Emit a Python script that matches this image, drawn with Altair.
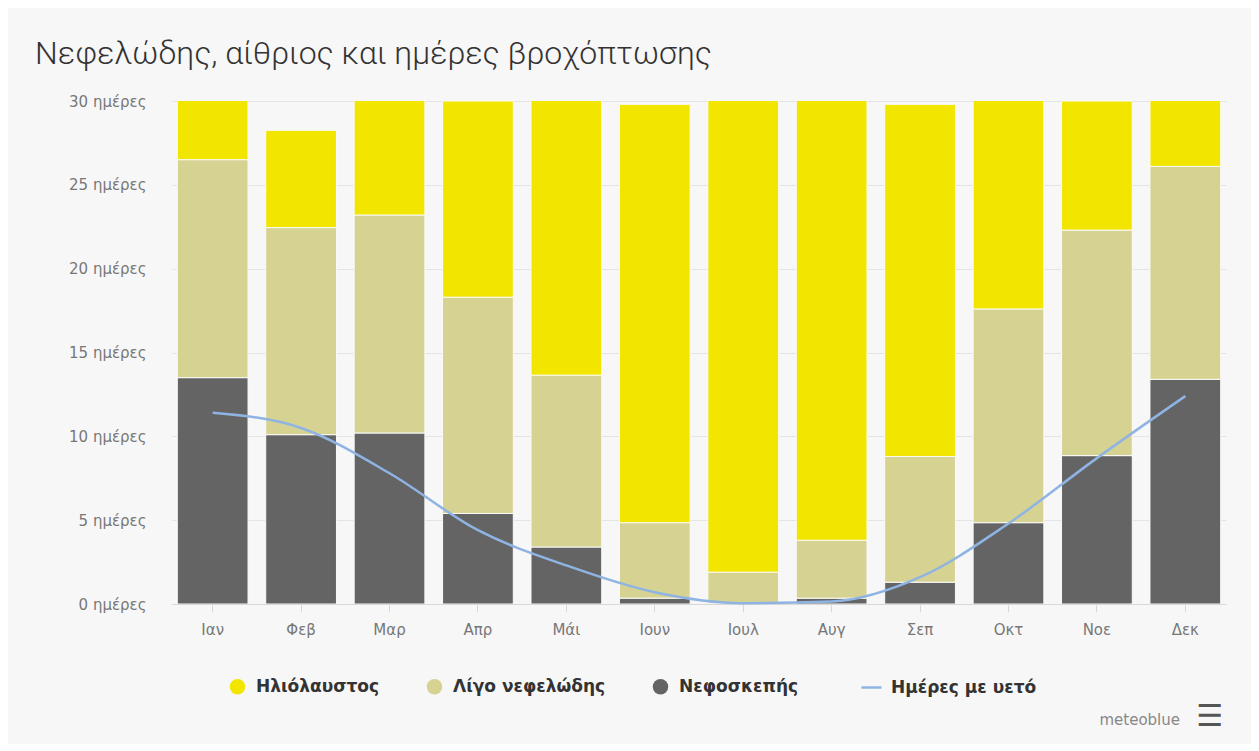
import altair as alt
import pandas as pd

months = ["Ιαν", "Φεβ", "Μαρ", "Απρ", "Μάι", "Ιουν", "Ιουλ", "Αυγ", "Σεπ", "Οκτ", "Νοε", "Δεκ"]
series_names = ["Ηλιόλαυστος", "Λίγο νεφελώδης", "Νεφοσκεπής"]
sunny = [4.5, 5.8, 7.8, 11.7, 17.35, 24.95, 29.1, 27.2, 21.0, 13.4, 7.7, 4.9]
partly = [13.0, 12.35, 13.0, 12.9, 10.25, 4.5, 1.85, 3.45, 7.5, 12.75, 13.45, 12.7]
overcast = [13.5, 10.1, 10.2, 5.4, 3.4, 0.35, 0.05, 0.35, 1.3, 4.85, 8.85, 13.4]
precip_name = "Ημέρες με υετό"
precip = [11.4, 10.5, 7.8, 4.4, 2.3, 0.7, 0.05, 0.15, 1.6, 4.8, 8.7, 12.4]
y_ticks = [0, 5, 10, 15, 20, 25, 30]

colors = ["#f2e600", "#d6d292", "#646464"]
line_color = "#8fb4e3"

rows = []
for i, m in enumerate(months):
    for rank, (name, vals) in enumerate(zip(series_names[::-1], [overcast, partly, sunny])):
        rows.append({"month": m, "type": name, "days": vals[i], "rank": rank})
bars_df = pd.DataFrame(rows)
line_df = pd.DataFrame({"month": months, "days": precip, "name": precip_name})
brand_df = pd.DataFrame({"t": ["meteoblue"]})
menu_df = pd.DataFrame({"t": ["☰"]})

x_enc = alt.X(
    "month:N", sort=months, title=None,
    scale=alt.Scale(paddingInner=0.2, paddingOuter=0.06),
    axis=alt.Axis(labelAngle=0, labelFont="DejaVu Sans", labelFontSize=15,
                  labelColor="#777", domainColor="#d8d8d8", tickColor="#d8d8d8",
                  tickSize=8, labelPadding=10, grid=False),
)
y_scale = alt.Scale(domain=[0, 30], nice=False)

bars = alt.Chart(bars_df).mark_bar(clip=True, stroke="#fafafa", strokeWidth=1).encode(
    x=x_enc,
    y=alt.Y("days:Q", stack="zero", scale=y_scale, title=None,
            axis=alt.Axis(values=y_ticks, labelExpr="datum.value + ' ημέρες'",
                          labelFont="DejaVu Sans", labelFontSize=15, labelColor="#777",
                          domain=False, ticks=False, labelPadding=26,
                          gridColor="#e4e4e4", gridWidth=1)),
    color=alt.Color("type:N", scale=alt.Scale(domain=series_names, range=colors),
                    legend=alt.Legend(title=None, orient="none", direction="horizontal",
                                      legendX=57, legendY=577, symbolType="circle",
                                      symbolSize=240, symbolStrokeWidth=0,
                                      labelFont="DejaVu Sans", labelFontSize=17,
                                      labelFontWeight="bold", labelColor="#333",
                                      columnPadding=46, labelOffset=10)),
    order=alt.Order("rank:Q"),
)

line = alt.Chart(line_df).mark_line(interpolate="monotone", strokeWidth=2.5).encode(
    x=alt.X("month:N", sort=months),
    y=alt.Y("days:Q", scale=y_scale),
    stroke=alt.Stroke("name:N", scale=alt.Scale(domain=[precip_name], range=[line_color]),
                      legend=alt.Legend(title=None, orient="none", direction="horizontal",
                                        legendX=688, legendY=575, symbolType="stroke",
                                        symbolSize=400, symbolStrokeWidth=2.5,
                                        labelFont="DejaVu Sans", labelFontSize=17,
                                        labelFontWeight="bold", labelColor="#333",
                                        labelOffset=8)),
)

brand = alt.Chart(brand_df).mark_text(font="DejaVu Sans", fontSize=15, color="#888",
                                      align="right", baseline="middle").encode(
    text="t:N", x=alt.value(1008), y=alt.value(619))
menu = alt.Chart(menu_df).mark_text(font="DejaVu Sans", fontSize=30, fontWeight="bold",
                                    color="#555", align="center", baseline="middle").encode(
    text="t:N", x=alt.value(1038), y=alt.value(616))

chart = alt.layer(bars, line, brand, menu).resolve_scale(color="independent").properties(
    width=1054, height=503,
    autosize=alt.AutoSizeParams(type="none"),
    padding={"left": 164, "top": 93, "right": 25, "bottom": 140},
    background="#f7f7f7",
    title=alt.TitleParams("Νεφελώδης, αίθριος και ημέρες βροχόπτωσης",
                          font="Roboto", fontSize=32, fontWeight=300,
                          color="#333", anchor="start", frame="group", dx=-137, offset=23),
).configure_view(stroke=None)

chart.save("out.html", embed_options={"renderer": "svg", "actions": False})
